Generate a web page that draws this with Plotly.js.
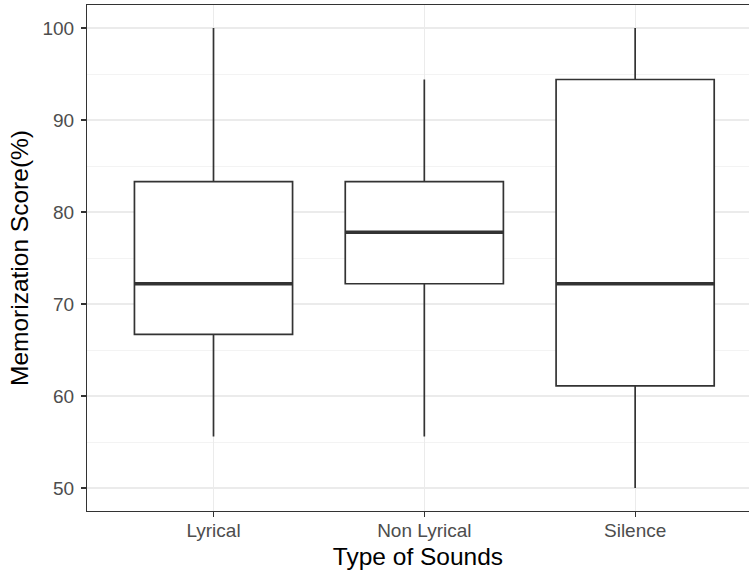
<!DOCTYPE html>
<html>
<head>
<meta charset="utf-8">
<script src="https://cdn.plot.ly/plotly-3.0.1.min.js"></script>
<style>html,body{margin:0;padding:0;background:#fff;}#chart{width:749px;height:573px;}</style>
</head>
<body>
<div id="chart"></div>
<script>
const categories = ["Lyrical", "Non Lyrical", "Silence"];
const lowerWhisker = [55.6, 55.6, 50.0];
const q1Values = [66.7, 72.2, 61.1];
const medianValues = [72.2, 77.8, 72.2];
const q3Values = [83.3, 83.3, 94.4];
const upperWhisker = [100.0, 94.4, 100.0];
const yTickValues = [50, 60, 70, 80, 90, 100];

const boxTrace = {
  type: "box",
  x: categories,
  q1: q1Values,
  median: medianValues,
  q3: q3Values,
  lowerfence: lowerWhisker,
  upperfence: upperWhisker,
  width: 0.75,
  whiskerwidth: 0,
  fillcolor: "#ffffff",
  line: {color: "#333333", width: 1.7},
  boxpoints: false,
  hoverinfo: "skip",
  showlegend: false
};

const medianShapes = categories.map((c, i) => ({
  type: "line", xref: "x", yref: "y",
  x0: i - 0.375, x1: i + 0.375,
  y0: medianValues[i], y1: medianValues[i],
  line: {color: "#333333", width: 3.4}
}));

const layout = {
  width: 749, height: 573,
  margin: {l: 87, r: 0, t: 5, b: 62},
  paper_bgcolor: "#ffffff",
  plot_bgcolor: "#ffffff",
  font: {family: "Liberation Sans, Arial, sans-serif", color: "#000000"},
  showlegend: false,
  shapes: medianShapes,
  xaxis: {
    type: "category",
    range: [-0.6, 2.54],
    showgrid: true, gridcolor: "#ebebeb", gridwidth: 1.2,
    showline: true, linecolor: "#333333", linewidth: 1.1, mirror: true,
    ticks: "outside", ticklen: 5, tickcolor: "#333333", tickwidth: 1.1,
    tickfont: {size: 19, color: "#4d4d4d"},
    ticklabelstandoff: -3,
    zeroline: false,
    title: {text: "Type of Sounds", font: {size: 24.5, color: "#000000"}, standoff: 7}
  },
  yaxis: {
    range: [47.5, 102.5],
    tickvals: yTickValues,
    ticktext: yTickValues.map(String),
    showgrid: true, gridcolor: "#ebebeb", gridwidth: 1.2,
    minor: {dtick: 5, tick0: 0, showgrid: true, gridcolor: "#ebebeb", gridwidth: 0.6, ticks: ""},
    showline: true, linecolor: "#333333", linewidth: 1.1, mirror: false,
    ticks: "outside", ticklen: 5, tickcolor: "#333333", tickwidth: 1.1,
    tickfont: {size: 19, color: "#4d4d4d"},
    ticklabelstandoff: 3,
    zeroline: false,
    title: {text: "Memorization Score(%)", font: {size: 24.5, color: "#000000"}, standoff: 6}
  }
};

Plotly.newPlot("chart", [boxTrace], layout, {displayModeBar: false, staticPlot: true});
</script>
</body>
</html>
